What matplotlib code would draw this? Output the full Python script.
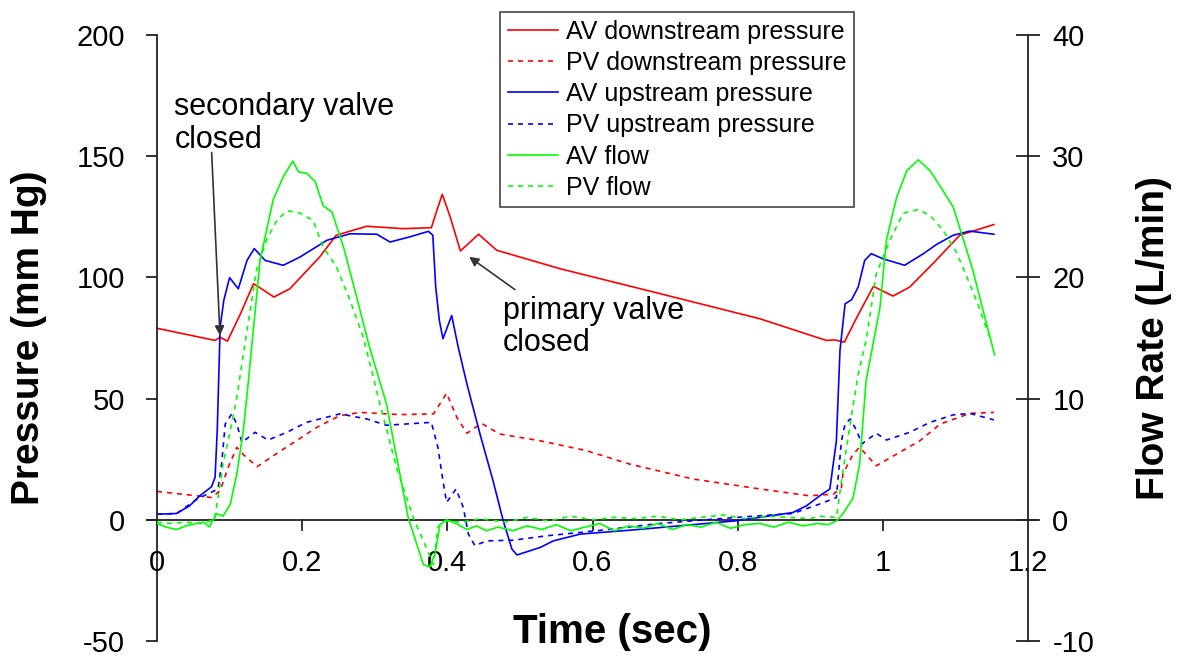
import matplotlib
matplotlib.use("Agg")
import matplotlib.pyplot as plt

plt.rcParams['font.family'] = ['Liberation Sans', 'DejaVu Sans']
plt.rcParams['axes.unicode_minus'] = False

# ---------------- data ----------------
av_down_t = [0.000, 0.040, 0.080, 0.087, 0.097, 0.115, 0.133, 0.148, 0.161, 0.183, 0.224, 0.247,
             0.289, 0.339, 0.378, 0.386, 0.393, 0.404, 0.418, 0.443, 0.468, 0.555, 0.693, 0.831,
             0.922, 0.934, 0.947, 0.965, 0.987, 1.014, 1.037, 1.069, 1.106, 1.153]
av_down_p = [79.0, 76.5, 74.0, 75.3, 73.7, 85.0, 97.4, 94.5, 91.9, 95.3, 108.4, 117.4,
             121.1, 120.1, 120.5, 128.0, 134.3, 124.9, 110.9, 117.8, 111.2, 103.6, 93.3, 82.9,
             74.0, 74.2, 73.3, 84.0, 96.3, 92.3, 96.0, 105.7, 117.4, 121.8]

pv_down_t = [0.000, 0.055, 0.075, 0.087, 0.098, 0.110, 0.119, 0.138, 0.160, 0.192, 0.220, 0.252,
             0.280, 0.335, 0.381, 0.399, 0.413, 0.427, 0.447, 0.472, 0.528, 0.592, 0.651, 0.739,
             0.831, 0.899, 0.932, 0.943, 0.945, 0.959, 0.968, 0.991, 1.023, 1.051, 1.079, 1.120, 1.153]
pv_down_p = [11.7, 9.9, 9.2, 12.0, 21.6, 29.9, 26.9, 21.9, 26.4, 32.6, 38.1, 43.0,
             44.3, 43.4, 43.7, 52.2, 42.3, 35.7, 39.8, 35.4, 32.6, 28.5, 23.0, 16.8,
             12.7, 9.9, 10.6, 13.3, 18.9, 27.1, 29.9, 22.3, 27.8, 32.6, 39.5, 43.9, 44.3]

av_up_t = [0.000, 0.027, 0.045, 0.059, 0.075, 0.080, 0.083, 0.087, 0.092, 0.100, 0.112, 0.124,
           0.134, 0.149, 0.174, 0.197, 0.234, 0.266, 0.303, 0.321, 0.348, 0.374, 0.380, 0.384,
           0.389, 0.394, 0.406, 0.415, 0.427, 0.445, 0.463, 0.477, 0.489, 0.496, 0.528, 0.546,
           0.583, 0.651, 0.693, 0.798, 0.876, 0.895, 0.913, 0.927, 0.936, 0.941, 0.948, 0.957,
           0.966, 0.975, 0.984, 1.000, 1.030, 1.056, 1.074, 1.097, 1.120, 1.153]
av_up_p = [2.3, 2.6, 5.8, 9.9, 13.6, 17.5, 36.8, 79.5, 90.5, 99.9, 95.3, 107.0,
           111.9, 107.0, 105.0, 108.4, 115.3, 118.0, 117.8, 114.6, 116.7, 119.0, 117.4, 96.0,
           82.2, 74.7, 84.3, 71.2, 56.0, 35.4, 16.1, -0.4, -12.1, -14.5, -11.4, -8.7,
           -5.9, -4.3, -3.2, -0.4, 3.0, 5.8, 9.9, 12.7, 32.6, 70.0, 89.1, 90.8,
           96.0, 107.0, 109.8, 107.7, 105.0, 109.8, 113.6, 117.4, 119.1, 117.8]

pv_up_t = [0.000, 0.027, 0.055, 0.084, 0.089, 0.094, 0.103, 0.110, 0.117, 0.135, 0.153, 0.179,
           0.206, 0.252, 0.289, 0.316, 0.378, 0.387, 0.394, 0.399, 0.412, 0.422, 0.429, 0.438,
           0.454, 0.491, 0.537, 0.606, 0.693, 0.798, 0.876, 0.913, 0.936, 0.943, 0.948, 0.955,
           0.964, 0.971, 0.991, 1.005, 1.037, 1.065, 1.097, 1.120, 1.153]
pv_up_p = [2.3, 2.6, 8.5, 12.7, 23.0, 39.5, 43.7, 39.5, 31.9, 36.1, 32.9, 36.1,
           40.2, 43.7, 41.6, 39.0, 40.2, 29.9, 16.1, 7.2, 12.7, 5.1, -5.9, -10.7,
           -8.7, -8.4, -6.6, -4.5, -1.5, 1.0, 2.6, 6.5, 9.2, 32.6, 39.5, 41.6,
           36.8, 31.3, 35.7, 32.9, 36.1, 40.2, 43.3, 43.9, 41.2]

av_flow_t = [0.000, 0.012, 0.027, 0.040, 0.055, 0.065, 0.072, 0.082, 0.091, 0.101, 0.110, 0.119,
             0.126, 0.142, 0.160, 0.174, 0.187, 0.195, 0.206, 0.218, 0.229, 0.241, 0.257, 0.275,
             0.293, 0.316, 0.346, 0.367, 0.376, 0.383, 0.390, 0.399, 0.412, 0.427, 0.440, 0.454,
             0.470, 0.490, 0.510, 0.530, 0.550, 0.570, 0.590, 0.610, 0.630, 0.650, 0.670, 0.690,
             0.710, 0.730, 0.750, 0.770, 0.790, 0.810, 0.830, 0.850, 0.870, 0.890, 0.910, 0.925,
             0.936, 0.945, 0.959, 0.968, 0.977, 0.996, 1.005, 1.019, 1.033, 1.049, 1.065, 1.074,
             1.097, 1.108, 1.124, 1.138, 1.154]
av_flow_f = [-0.3, -0.6, -0.8, -0.5, -0.3, -0.2, -0.6, 0.5, 0.3, 1.3, 3.8, 7.4,
             11.5, 21.4, 26.4, 28.3, 29.6, 28.7, 28.6, 27.9, 25.9, 25.4, 22.5, 18.4,
             14.2, 9.6, 0.2, -3.7, -3.9, -2.8, -0.4, 0.0, -0.3, -0.8, -0.5, -0.9,
             -0.6, -0.9, -0.5, -0.8, -0.4, -0.9, -0.6, -0.3, -0.9, -0.5, -0.7, -0.3,
             -0.8, -0.4, -0.6, -0.2, -0.7, -0.4, -0.3, -0.6, -0.2, -0.5, -0.3, -0.4,
             -0.1, 0.5, 1.8, 4.6, 11.5, 17.5, 23.1, 26.6, 28.8, 29.7, 28.8, 28.0,
             25.8, 23.7, 20.6, 17.3, 13.6]

pv_flow_t = [0.000, 0.020, 0.040, 0.060, 0.079, 0.084, 0.091, 0.101, 0.110, 0.119, 0.137, 0.151,
             0.165, 0.179, 0.197, 0.215, 0.229, 0.247, 0.266, 0.284, 0.307, 0.330, 0.353, 0.371,
             0.381, 0.387, 0.395, 0.420, 0.445, 0.480, 0.510, 0.540, 0.570, 0.600, 0.630, 0.660,
             0.690, 0.720, 0.750, 0.780, 0.810, 0.840, 0.870, 0.900, 0.913, 0.936, 0.943, 0.955,
             0.966, 0.977, 0.991, 1.010, 1.028, 1.049, 1.065, 1.083, 1.102, 1.116, 1.129, 1.147]
pv_flow_f = [-0.2, -0.3, -0.2, -0.3, 0.0, 1.8, 4.6, 7.4, 10.1, 13.7, 20.6, 23.1,
             24.7, 25.5, 25.3, 24.7, 22.5, 20.9, 18.1, 15.1, 9.6, 4.3, 0.2, -2.3,
             -3.7, -0.6, -0.1, -0.2, 0.1, -0.2, 0.2, -0.1, 0.3, 0.0, 0.2, 0.1,
             0.3, 0.0, 0.2, 0.4, 0.1, 0.3, 0.2, 0.1, 0.3, 0.2, 3.2, 7.9,
             12.0, 14.8, 20.3, 23.1, 25.3, 25.6, 25.1, 23.9, 22.0, 20.0, 18.1, 15.1]

x_ticks = [0, 0.2, 0.4, 0.6, 0.8, 1.0, 1.2]
x_tick_labels = ["0", "0.2", "0.4", "0.6", "0.8", "1", "1.2"]
p_ticks = [-50, 0, 50, 100, 150, 200]
f_ticks = [-10, 0, 10, 20, 30, 40]

RED = "#ff0000"
BLUE = "#0000ff"
GREEN = "#00ff00"
AXC = "#222222"

# ---------------- figure ----------------
fig = plt.figure(figsize=(11.8, 6.56), dpi=100)
ax = fig.add_axes([157/1180, 1-641/656, (1028-157)/1180, (641-35)/656])
ax2 = ax.twinx()

ax.set_xlim(0, 1.2)
ax.set_ylim(-50, 200)
ax2.set_ylim(-10, 40)

lw = 1.2
dash = (0, (3, 3))
l1, = ax.plot(av_down_t, av_down_p, color=RED, lw=lw, label="AV downstream pressure")
l2, = ax.plot(pv_down_t, pv_down_p, color=RED, lw=lw, ls=dash, label="PV downstream pressure")
l3, = ax.plot(av_up_t, av_up_p, color=BLUE, lw=lw, label="AV upstream pressure")
l4, = ax.plot(pv_up_t, pv_up_p, color=BLUE, lw=lw, ls=dash, label="PV upstream pressure")
l5, = ax2.plot(av_flow_t, av_flow_f, color=GREEN, lw=lw, label="AV flow")
l6, = ax2.plot(pv_flow_t, pv_flow_f, color=GREEN, lw=lw, ls=dash, label="PV flow")

# spines
for a in (ax, ax2):
    a.spines['top'].set_visible(False)
    a.spines['bottom'].set_visible(False)
ax.spines['right'].set_visible(False)
ax2.spines['left'].set_visible(False)
ax.spines['left'].set_color(AXC)
ax2.spines['right'].set_color(AXC)
ax.spines['left'].set_linewidth(1.3)
ax2.spines['right'].set_linewidth(1.3)

# zero line acting as x axis
ax.axhline(0, xmin=-0.012, xmax=1.010, color=AXC, lw=1.3, clip_on=False, zorder=1)

# ticks
ax.set_yticks(p_ticks)
ax.tick_params(axis='y', direction='out', length=8, width=1.3, color=AXC,
               labelsize=21, pad=15)
ax2.set_yticks(f_ticks)
ax2.tick_params(axis='y', direction='inout', length=17, width=1.3, color=AXC,
                labelsize=21, pad=9)
ax.set_xticks(x_ticks)
ax.tick_params(axis='x', bottom=False, labelbottom=False)

for xv, lab in zip(x_ticks, x_tick_labels):
    if 0 < xv < 1.2:
        ax.plot([xv, xv], [0, -4.2], color=AXC, lw=1.3, clip_on=False, zorder=1)
    ax.text(xv, -18, lab, ha='center', va='center', fontsize=21)

ax.set_ylabel("Pressure (mm Hg)", fontsize=28, fontweight='bold')
ax.yaxis.set_label_coords(-0.1265, 0.5)
ax2.set_ylabel("Flow Rate (L/min)", fontsize=28, fontweight='bold', rotation=90)
ax2.yaxis.set_label_coords(1.124, 0.5)
fig.text(612/1180, 1-632/656, "Time (sec)", ha='center', va='center',
         fontsize=29, fontweight='bold')

# annotations
ax.annotate("", xy=(0.0868, 76), xytext=(0.0753, 151.5),
            arrowprops=dict(arrowstyle="-|>", color="#333333", lw=1.2,
                            mutation_scale=14, shrinkA=0, shrinkB=0))
ax.text(0.024, 163.5, "secondary valve\nclosed", fontsize=22, ha='left', va='center',
        linespacing=1.1)
ax.annotate("", xy=(0.430, 108.5), xytext=(0.493, 95),
            arrowprops=dict(arrowstyle="-|>", color="#333333", lw=1.2,
                            mutation_scale=14, shrinkA=0, shrinkB=0))
ax.text(0.477, 79.5, "primary valve\nclosed", fontsize=22, ha='left', va='center',
        linespacing=1.1)

# legend
handles = [l1, l2, l3, l4, l5, l6]
leg = fig.legend(handles=handles, loc='upper left',
                 bbox_to_anchor=(500/1180, 1-12/656), fontsize=18,
                 frameon=True, fancybox=False, framealpha=1, edgecolor="#444444",
                 handlelength=2.0, handletextpad=0.32, labelspacing=0.29,
                 borderpad=0.3, borderaxespad=0)
leg.get_frame().set_linewidth(1.2)

fig.savefig("out.png", dpi=100)
